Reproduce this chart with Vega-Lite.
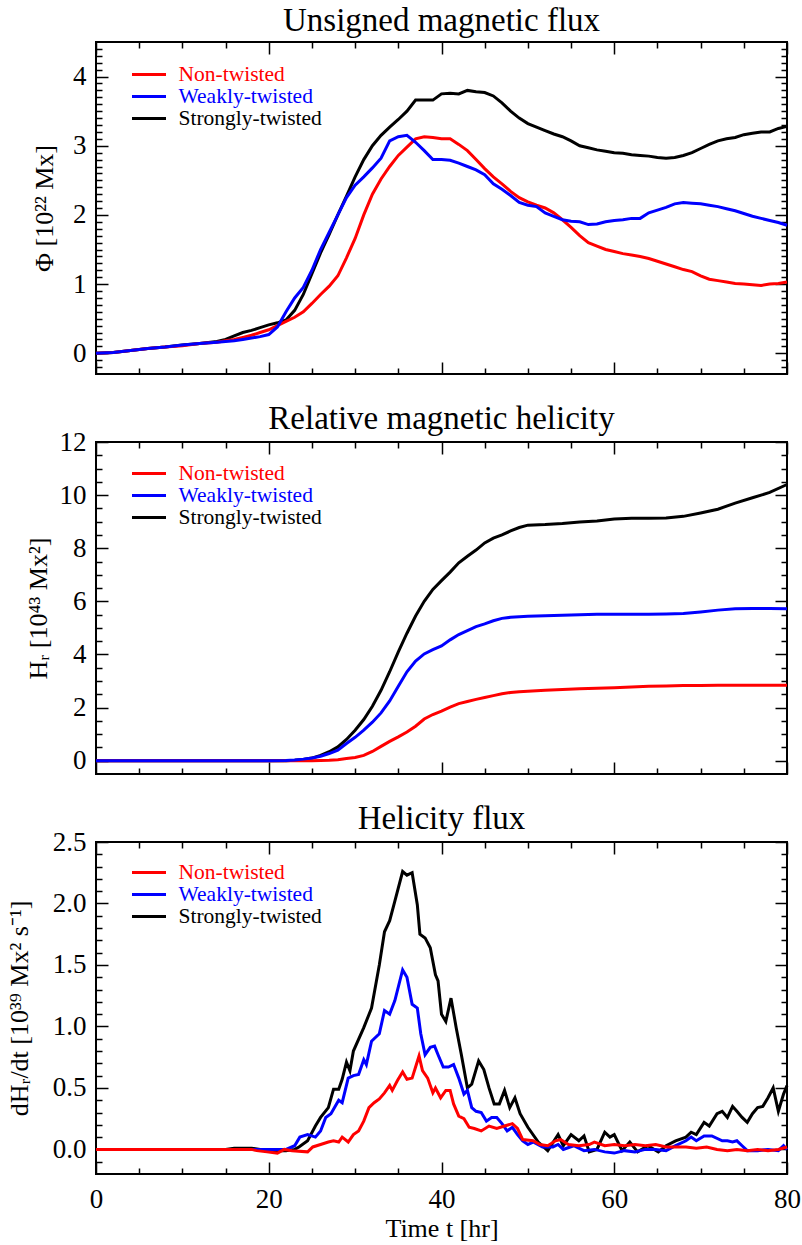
{
  "$schema": "https://vega.github.io/schema/vega-lite/v6.json",
  "background": "white",
  "padding": {"left": 5, "top": 4, "right": 5, "bottom": 2},
  "bounds": "flush",
  "spacing": 68,
  "config": {
    "view": {"stroke": "#000000", "strokeWidth": 2},
    "axis": {"domain": false, "grid": false, "tickColor": "#000000", "tickWidth": 1.5, "labelFont": "Liberation Serif", "labelFontSize": 27, "labelColor": "#000000", "titleFont": "Liberation Serif", "titleFontSize": 26, "titleFontWeight": "normal", "titleColor": "#000000", "labelFlush": false, "labelOverlap": false, "minExtent": 0},
    "title": {"font": "Liberation Serif", "fontSize": 33, "fontWeight": "normal", "color": "#000000", "anchor": "middle", "baseline": "alphabetic", "offset": 3},
    "line": {"strokeWidth": 3}
  },
  "datasets": {
    "flux": [
      {"t":0,"Non-twisted":0,"Weakly-twisted":0,"Strongly-twisted":0},
      {"t":2,"Non-twisted":0.01,"Weakly-twisted":0.01,"Strongly-twisted":0.01},
      {"t":4,"Non-twisted":0.04,"Weakly-twisted":0.04,"Strongly-twisted":0.04},
      {"t":6,"Non-twisted":0.07,"Weakly-twisted":0.07,"Strongly-twisted":0.07},
      {"t":8,"Non-twisted":0.09,"Weakly-twisted":0.09,"Strongly-twisted":0.09},
      {"t":10,"Non-twisted":0.11,"Weakly-twisted":0.12,"Strongly-twisted":0.12},
      {"t":12,"Non-twisted":0.14,"Weakly-twisted":0.14,"Strongly-twisted":0.14},
      {"t":14,"Non-twisted":0.16,"Weakly-twisted":0.16,"Strongly-twisted":0.17},
      {"t":15,"Non-twisted":0.18,"Weakly-twisted":0.17,"Strongly-twisted":0.2},
      {"t":16,"Non-twisted":0.2,"Weakly-twisted":0.18,"Strongly-twisted":0.25},
      {"t":17,"Non-twisted":0.23,"Weakly-twisted":0.2,"Strongly-twisted":0.3},
      {"t":18,"Non-twisted":0.26,"Weakly-twisted":0.22,"Strongly-twisted":0.33},
      {"t":19,"Non-twisted":0.3,"Weakly-twisted":0.24,"Strongly-twisted":0.37},
      {"t":20,"Non-twisted":0.34,"Weakly-twisted":0.27,"Strongly-twisted":0.41},
      {"t":21,"Non-twisted":0.4,"Weakly-twisted":0.38,"Strongly-twisted":0.44},
      {"t":22,"Non-twisted":0.46,"Weakly-twisted":0.6,"Strongly-twisted":0.48},
      {"t":23,"Non-twisted":0.52,"Weakly-twisted":0.8,"Strongly-twisted":0.62},
      {"t":24,"Non-twisted":0.6,"Weakly-twisted":0.95,"Strongly-twisted":0.85},
      {"t":25,"Non-twisted":0.72,"Weakly-twisted":1.2,"Strongly-twisted":1.15},
      {"t":26,"Non-twisted":0.85,"Weakly-twisted":1.5,"Strongly-twisted":1.45},
      {"t":27,"Non-twisted":0.97,"Weakly-twisted":1.75,"Strongly-twisted":1.72},
      {"t":28,"Non-twisted":1.12,"Weakly-twisted":2.0,"Strongly-twisted":2.0},
      {"t":29,"Non-twisted":1.38,"Weakly-twisted":2.25,"Strongly-twisted":2.27},
      {"t":30,"Non-twisted":1.66,"Weakly-twisted":2.43,"Strongly-twisted":2.55},
      {"t":31,"Non-twisted":2.0,"Weakly-twisted":2.55,"Strongly-twisted":2.8},
      {"t":32,"Non-twisted":2.3,"Weakly-twisted":2.68,"Strongly-twisted":3.0},
      {"t":33,"Non-twisted":2.52,"Weakly-twisted":2.82,"Strongly-twisted":3.15},
      {"t":34,"Non-twisted":2.7,"Weakly-twisted":3.07,"Strongly-twisted":3.27},
      {"t":35,"Non-twisted":2.86,"Weakly-twisted":3.13,"Strongly-twisted":3.38},
      {"t":36,"Non-twisted":2.98,"Weakly-twisted":3.15,"Strongly-twisted":3.5},
      {"t":37,"Non-twisted":3.1,"Weakly-twisted":3.05,"Strongly-twisted":3.66},
      {"t":38,"Non-twisted":3.13,"Weakly-twisted":2.93,"Strongly-twisted":3.66},
      {"t":39,"Non-twisted":3.12,"Weakly-twisted":2.8,"Strongly-twisted":3.66},
      {"t":40,"Non-twisted":3.1,"Weakly-twisted":2.8,"Strongly-twisted":3.75},
      {"t":41,"Non-twisted":3.1,"Weakly-twisted":2.79,"Strongly-twisted":3.76},
      {"t":42,"Non-twisted":3.02,"Weakly-twisted":2.75,"Strongly-twisted":3.75},
      {"t":43,"Non-twisted":2.93,"Weakly-twisted":2.7,"Strongly-twisted":3.8},
      {"t":44,"Non-twisted":2.8,"Weakly-twisted":2.65,"Strongly-twisted":3.78},
      {"t":45,"Non-twisted":2.67,"Weakly-twisted":2.58,"Strongly-twisted":3.77},
      {"t":46,"Non-twisted":2.55,"Weakly-twisted":2.45,"Strongly-twisted":3.72},
      {"t":47,"Non-twisted":2.45,"Weakly-twisted":2.37,"Strongly-twisted":3.62},
      {"t":48,"Non-twisted":2.34,"Weakly-twisted":2.28,"Strongly-twisted":3.5},
      {"t":49,"Non-twisted":2.25,"Weakly-twisted":2.18,"Strongly-twisted":3.4},
      {"t":50,"Non-twisted":2.19,"Weakly-twisted":2.14,"Strongly-twisted":3.32},
      {"t":51,"Non-twisted":2.14,"Weakly-twisted":2.12,"Strongly-twisted":3.27},
      {"t":52,"Non-twisted":2.1,"Weakly-twisted":2.03,"Strongly-twisted":3.22},
      {"t":53,"Non-twisted":2.03,"Weakly-twisted":1.98,"Strongly-twisted":3.17},
      {"t":54,"Non-twisted":1.93,"Weakly-twisted":1.93,"Strongly-twisted":3.13},
      {"t":55,"Non-twisted":1.82,"Weakly-twisted":1.91,"Strongly-twisted":3.07},
      {"t":56,"Non-twisted":1.7,"Weakly-twisted":1.9,"Strongly-twisted":3.0},
      {"t":57,"Non-twisted":1.6,"Weakly-twisted":1.86,"Strongly-twisted":2.97},
      {"t":58,"Non-twisted":1.55,"Weakly-twisted":1.87,"Strongly-twisted":2.94},
      {"t":59,"Non-twisted":1.5,"Weakly-twisted":1.9,"Strongly-twisted":2.92},
      {"t":60,"Non-twisted":1.47,"Weakly-twisted":1.92,"Strongly-twisted":2.9},
      {"t":61,"Non-twisted":1.44,"Weakly-twisted":1.93,"Strongly-twisted":2.89},
      {"t":62,"Non-twisted":1.42,"Weakly-twisted":1.95,"Strongly-twisted":2.87},
      {"t":63,"Non-twisted":1.4,"Weakly-twisted":1.95,"Strongly-twisted":2.86},
      {"t":64,"Non-twisted":1.37,"Weakly-twisted":2.03,"Strongly-twisted":2.85},
      {"t":65,"Non-twisted":1.33,"Weakly-twisted":2.07,"Strongly-twisted":2.83},
      {"t":66,"Non-twisted":1.29,"Weakly-twisted":2.11,"Strongly-twisted":2.82},
      {"t":67,"Non-twisted":1.25,"Weakly-twisted":2.16,"Strongly-twisted":2.83},
      {"t":68,"Non-twisted":1.21,"Weakly-twisted":2.18,"Strongly-twisted":2.86},
      {"t":69,"Non-twisted":1.18,"Weakly-twisted":2.17,"Strongly-twisted":2.9},
      {"t":70,"Non-twisted":1.12,"Weakly-twisted":2.16,"Strongly-twisted":2.96},
      {"t":71,"Non-twisted":1.07,"Weakly-twisted":2.14,"Strongly-twisted":3.02},
      {"t":72,"Non-twisted":1.05,"Weakly-twisted":2.12,"Strongly-twisted":3.07},
      {"t":73,"Non-twisted":1.03,"Weakly-twisted":2.09,"Strongly-twisted":3.1},
      {"t":74,"Non-twisted":1.01,"Weakly-twisted":2.06,"Strongly-twisted":3.12},
      {"t":75,"Non-twisted":1.0,"Weakly-twisted":2.02,"Strongly-twisted":3.16},
      {"t":76,"Non-twisted":0.99,"Weakly-twisted":1.98,"Strongly-twisted":3.18},
      {"t":77,"Non-twisted":0.98,"Weakly-twisted":1.95,"Strongly-twisted":3.2},
      {"t":78,"Non-twisted":1.0,"Weakly-twisted":1.92,"Strongly-twisted":3.2},
      {"t":79,"Non-twisted":1.01,"Weakly-twisted":1.89,"Strongly-twisted":3.25},
      {"t":80,"Non-twisted":1.03,"Weakly-twisted":1.85,"Strongly-twisted":3.28}
    ],
    "hel": [
      {"t":0,"Non-twisted":0,"Weakly-twisted":0,"Strongly-twisted":0},
      {"t":10,"Non-twisted":0,"Weakly-twisted":0,"Strongly-twisted":0},
      {"t":20,"Non-twisted":0,"Weakly-twisted":0,"Strongly-twisted":0},
      {"t":22,"Non-twisted":0,"Weakly-twisted":0.01,"Strongly-twisted":0},
      {"t":23,"Non-twisted":0,"Weakly-twisted":0.03,"Strongly-twisted":0.02},
      {"t":24,"Non-twisted":0,"Weakly-twisted":0.06,"Strongly-twisted":0.05},
      {"t":25,"Non-twisted":0,"Weakly-twisted":0.1,"Strongly-twisted":0.1},
      {"t":26,"Non-twisted":0.01,"Weakly-twisted":0.17,"Strongly-twisted":0.2},
      {"t":27,"Non-twisted":0.02,"Weakly-twisted":0.27,"Strongly-twisted":0.34},
      {"t":28,"Non-twisted":0.04,"Weakly-twisted":0.4,"Strongly-twisted":0.52},
      {"t":29,"Non-twisted":0.08,"Weakly-twisted":0.65,"Strongly-twisted":0.8},
      {"t":30,"Non-twisted":0.12,"Weakly-twisted":0.88,"Strongly-twisted":1.15},
      {"t":31,"Non-twisted":0.2,"Weakly-twisted":1.15,"Strongly-twisted":1.55},
      {"t":32,"Non-twisted":0.35,"Weakly-twisted":1.45,"Strongly-twisted":2.05},
      {"t":33,"Non-twisted":0.54,"Weakly-twisted":1.8,"Strongly-twisted":2.65},
      {"t":34,"Non-twisted":0.73,"Weakly-twisted":2.25,"Strongly-twisted":3.35},
      {"t":35,"Non-twisted":0.9,"Weakly-twisted":2.8,"Strongly-twisted":4.1},
      {"t":36,"Non-twisted":1.08,"Weakly-twisted":3.35,"Strongly-twisted":4.8},
      {"t":37,"Non-twisted":1.3,"Weakly-twisted":3.75,"Strongly-twisted":5.45},
      {"t":38,"Non-twisted":1.57,"Weakly-twisted":4.02,"Strongly-twisted":6.0},
      {"t":39,"Non-twisted":1.74,"Weakly-twisted":4.18,"Strongly-twisted":6.45},
      {"t":40,"Non-twisted":1.87,"Weakly-twisted":4.32,"Strongly-twisted":6.78},
      {"t":41,"Non-twisted":2.02,"Weakly-twisted":4.55,"Strongly-twisted":7.1},
      {"t":42,"Non-twisted":2.15,"Weakly-twisted":4.75,"Strongly-twisted":7.45},
      {"t":43,"Non-twisted":2.23,"Weakly-twisted":4.9,"Strongly-twisted":7.7},
      {"t":44,"Non-twisted":2.31,"Weakly-twisted":5.05,"Strongly-twisted":7.93},
      {"t":45,"Non-twisted":2.38,"Weakly-twisted":5.15,"Strongly-twisted":8.2},
      {"t":46,"Non-twisted":2.45,"Weakly-twisted":5.27,"Strongly-twisted":8.38},
      {"t":47,"Non-twisted":2.52,"Weakly-twisted":5.36,"Strongly-twisted":8.5},
      {"t":48,"Non-twisted":2.57,"Weakly-twisted":5.4,"Strongly-twisted":8.65},
      {"t":49,"Non-twisted":2.6,"Weakly-twisted":5.42,"Strongly-twisted":8.78},
      {"t":50,"Non-twisted":2.62,"Weakly-twisted":5.44,"Strongly-twisted":8.87},
      {"t":52,"Non-twisted":2.65,"Weakly-twisted":5.46,"Strongly-twisted":8.89},
      {"t":54,"Non-twisted":2.68,"Weakly-twisted":5.48,"Strongly-twisted":8.93},
      {"t":56,"Non-twisted":2.71,"Weakly-twisted":5.5,"Strongly-twisted":8.99},
      {"t":58,"Non-twisted":2.73,"Weakly-twisted":5.51,"Strongly-twisted":9.03},
      {"t":60,"Non-twisted":2.75,"Weakly-twisted":5.51,"Strongly-twisted":9.1},
      {"t":62,"Non-twisted":2.78,"Weakly-twisted":5.51,"Strongly-twisted":9.13},
      {"t":64,"Non-twisted":2.8,"Weakly-twisted":5.51,"Strongly-twisted":9.13},
      {"t":66,"Non-twisted":2.81,"Weakly-twisted":5.52,"Strongly-twisted":9.14},
      {"t":68,"Non-twisted":2.83,"Weakly-twisted":5.54,"Strongly-twisted":9.2},
      {"t":70,"Non-twisted":2.83,"Weakly-twisted":5.6,"Strongly-twisted":9.33},
      {"t":72,"Non-twisted":2.84,"Weakly-twisted":5.67,"Strongly-twisted":9.47},
      {"t":74,"Non-twisted":2.84,"Weakly-twisted":5.72,"Strongly-twisted":9.7},
      {"t":76,"Non-twisted":2.84,"Weakly-twisted":5.73,"Strongly-twisted":9.9},
      {"t":78,"Non-twisted":2.84,"Weakly-twisted":5.73,"Strongly-twisted":10.1},
      {"t":80,"Non-twisted":2.84,"Weakly-twisted":5.72,"Strongly-twisted":10.4}
    ],
    "hflux": [
      {"series":"Strongly-twisted","t":0,"v":0},{"series":"Strongly-twisted","t":10,"v":0},{"series":"Strongly-twisted","t":15,"v":0},{"series":"Strongly-twisted","t":16,"v":0.01},{"series":"Strongly-twisted","t":17,"v":0.01},{"series":"Strongly-twisted","t":18,"v":0.01},{"series":"Strongly-twisted","t":19,"v":0},{"series":"Strongly-twisted","t":20,"v":-0.01},{"series":"Strongly-twisted","t":21,"v":-0.01},{"series":"Strongly-twisted","t":22,"v":-0.01},{"series":"Strongly-twisted","t":23,"v":0},{"series":"Strongly-twisted","t":23.5,"v":0.02},{"series":"Strongly-twisted","t":24.5,"v":0.07},{"series":"Strongly-twisted","t":25.4,"v":0.19},{"series":"Strongly-twisted","t":26,"v":0.26},{"series":"Strongly-twisted","t":26.9,"v":0.34},{"series":"Strongly-twisted","t":27.5,"v":0.49},{"series":"Strongly-twisted","t":28.1,"v":0.49},{"series":"Strongly-twisted","t":28.5,"v":0.57},{"series":"Strongly-twisted","t":29,"v":0.71},{"series":"Strongly-twisted","t":29.4,"v":0.64},{"series":"Strongly-twisted","t":29.8,"v":0.8},{"series":"Strongly-twisted","t":31,"v":0.99},{"series":"Strongly-twisted","t":31.9,"v":1.15},{"series":"Strongly-twisted","t":32.8,"v":1.5},{"series":"Strongly-twisted","t":33.4,"v":1.77},{"series":"Strongly-twisted","t":34,"v":1.86},{"series":"Strongly-twisted","t":34.6,"v":2.02},{"series":"Strongly-twisted","t":35.5,"v":2.26},{"series":"Strongly-twisted","t":36,"v":2.23},{"series":"Strongly-twisted","t":36.6,"v":2.25},{"series":"Strongly-twisted","t":37.2,"v":1.99},{"series":"Strongly-twisted","t":37.5,"v":1.75},{"series":"Strongly-twisted","t":38.1,"v":1.72},{"series":"Strongly-twisted","t":38.7,"v":1.64},{"series":"Strongly-twisted","t":39.3,"v":1.42},{"series":"Strongly-twisted","t":39.6,"v":1.37},{"series":"Strongly-twisted","t":40,"v":1.1},{"series":"Strongly-twisted","t":40.5,"v":1.04},{"series":"Strongly-twisted","t":41.1,"v":1.23},{"series":"Strongly-twisted","t":41.7,"v":0.99},{"series":"Strongly-twisted","t":42.3,"v":0.77},{"series":"Strongly-twisted","t":43,"v":0.5},{"series":"Strongly-twisted","t":43.5,"v":0.53},{"series":"Strongly-twisted","t":44.3,"v":0.72},{"series":"Strongly-twisted","t":44.9,"v":0.65},{"series":"Strongly-twisted","t":45.5,"v":0.5},{"series":"Strongly-twisted","t":46.1,"v":0.37},{"series":"Strongly-twisted","t":46.7,"v":0.37},{"series":"Strongly-twisted","t":47.3,"v":0.48},{"series":"Strongly-twisted","t":47.9,"v":0.34},{"series":"Strongly-twisted","t":48.5,"v":0.42},{"series":"Strongly-twisted","t":49.1,"v":0.29},{"series":"Strongly-twisted","t":50,"v":0.18},{"series":"Strongly-twisted","t":51.2,"v":0.06},{"series":"Strongly-twisted","t":52.3,"v":-0.01},{"series":"Strongly-twisted","t":53.5,"v":0.12},{"series":"Strongly-twisted","t":54.1,"v":0.03},{"series":"Strongly-twisted","t":55,"v":0.12},{"series":"Strongly-twisted","t":55.9,"v":0.07},{"series":"Strongly-twisted","t":56.5,"v":0.11},{"series":"Strongly-twisted","t":57.1,"v":-0.02},{"series":"Strongly-twisted","t":58,"v":0},{"series":"Strongly-twisted","t":58.9,"v":0.14},{"series":"Strongly-twisted","t":59.5,"v":0.1},{"series":"Strongly-twisted","t":60,"v":0.12},{"series":"Strongly-twisted","t":60.9,"v":-0.01},{"series":"Strongly-twisted","t":61.8,"v":0.06},{"series":"Strongly-twisted","t":62.7,"v":-0.02},{"series":"Strongly-twisted","t":63.9,"v":0.03},{"series":"Strongly-twisted","t":65.1,"v":-0.02},{"series":"Strongly-twisted","t":66,"v":0.03},{"series":"Strongly-twisted","t":67.1,"v":0.07},{"series":"Strongly-twisted","t":68.3,"v":0.1},{"series":"Strongly-twisted","t":68.9,"v":0.14},{"series":"Strongly-twisted","t":69.5,"v":0.12},{"series":"Strongly-twisted","t":70.4,"v":0.22},{"series":"Strongly-twisted","t":71,"v":0.19},{"series":"Strongly-twisted","t":71.9,"v":0.29},{"series":"Strongly-twisted","t":72.5,"v":0.31},{"series":"Strongly-twisted","t":73.1,"v":0.26},{"series":"Strongly-twisted","t":73.7,"v":0.35},{"series":"Strongly-twisted","t":74.2,"v":0.31},{"series":"Strongly-twisted","t":74.8,"v":0.26},{"series":"Strongly-twisted","t":75.4,"v":0.22},{"series":"Strongly-twisted","t":76,"v":0.29},{"series":"Strongly-twisted","t":76.6,"v":0.34},{"series":"Strongly-twisted","t":77.2,"v":0.35},{"series":"Strongly-twisted","t":77.8,"v":0.42},{"series":"Strongly-twisted","t":78.4,"v":0.5},{"series":"Strongly-twisted","t":79,"v":0.31},{"series":"Strongly-twisted","t":79.6,"v":0.45},{"series":"Strongly-twisted","t":80,"v":0.52},
      {"series":"Weakly-twisted","t":0,"v":0},{"series":"Weakly-twisted","t":10,"v":0},{"series":"Weakly-twisted","t":20,"v":0},{"series":"Weakly-twisted","t":22,"v":0},{"series":"Weakly-twisted","t":23,"v":0.03},{"series":"Weakly-twisted","t":23.6,"v":0.1},{"series":"Weakly-twisted","t":24.5,"v":0.12},{"series":"Weakly-twisted","t":25.4,"v":0.1},{"series":"Weakly-twisted","t":26,"v":0.15},{"series":"Weakly-twisted","t":26.6,"v":0.26},{"series":"Weakly-twisted","t":27.2,"v":0.29},{"series":"Weakly-twisted","t":28.1,"v":0.4},{"series":"Weakly-twisted","t":28.5,"v":0.38},{"series":"Weakly-twisted","t":29.2,"v":0.58},{"series":"Weakly-twisted","t":29.8,"v":0.6},{"series":"Weakly-twisted","t":30.4,"v":0.61},{"series":"Weakly-twisted","t":31,"v":0.73},{"series":"Weakly-twisted","t":31.3,"v":0.69},{"series":"Weakly-twisted","t":31.9,"v":0.88},{"series":"Weakly-twisted","t":32.8,"v":0.94},{"series":"Weakly-twisted","t":33.4,"v":1.13},{"series":"Weakly-twisted","t":34,"v":1.1},{"series":"Weakly-twisted","t":34.6,"v":1.21},{"series":"Weakly-twisted","t":35.5,"v":1.46},{"series":"Weakly-twisted","t":36,"v":1.4},{"series":"Weakly-twisted","t":36.6,"v":1.18},{"series":"Weakly-twisted","t":37.2,"v":1.15},{"series":"Weakly-twisted","t":37.6,"v":0.94},{"series":"Weakly-twisted","t":38.1,"v":0.77},{"series":"Weakly-twisted","t":38.7,"v":0.83},{"series":"Weakly-twisted","t":39.2,"v":0.84},{"series":"Weakly-twisted","t":39.6,"v":0.77},{"series":"Weakly-twisted","t":40.2,"v":0.67},{"series":"Weakly-twisted","t":40.8,"v":0.67},{"series":"Weakly-twisted","t":41.4,"v":0.69},{"series":"Weakly-twisted","t":42,"v":0.58},{"series":"Weakly-twisted","t":42.6,"v":0.45},{"series":"Weakly-twisted","t":43,"v":0.48},{"series":"Weakly-twisted","t":43.5,"v":0.34},{"series":"Weakly-twisted","t":44,"v":0.31},{"series":"Weakly-twisted","t":44.6,"v":0.3},{"series":"Weakly-twisted","t":45.2,"v":0.23},{"series":"Weakly-twisted","t":45.8,"v":0.26},{"series":"Weakly-twisted","t":46.4,"v":0.26},{"series":"Weakly-twisted","t":47,"v":0.21},{"series":"Weakly-twisted","t":47.6,"v":0.15},{"series":"Weakly-twisted","t":48.2,"v":0.18},{"series":"Weakly-twisted","t":48.8,"v":0.12},{"series":"Weakly-twisted","t":49.4,"v":0.07},{"series":"Weakly-twisted","t":50,"v":0.04},{"series":"Weakly-twisted","t":50.6,"v":0.06},{"series":"Weakly-twisted","t":51.7,"v":0.02},{"series":"Weakly-twisted","t":52.9,"v":0.02},{"series":"Weakly-twisted","t":53.5,"v":0.04},{"series":"Weakly-twisted","t":54.1,"v":0},{"series":"Weakly-twisted","t":55.3,"v":0.03},{"series":"Weakly-twisted","t":56.5,"v":-0.01},{"series":"Weakly-twisted","t":57.7,"v":0},{"series":"Weakly-twisted","t":58.9,"v":-0.02},{"series":"Weakly-twisted","t":60,"v":-0.03},{"series":"Weakly-twisted","t":61.2,"v":-0.01},{"series":"Weakly-twisted","t":62.4,"v":-0.02},{"series":"Weakly-twisted","t":63.6,"v":0},{"series":"Weakly-twisted","t":64.8,"v":0},{"series":"Weakly-twisted","t":66,"v":-0.01},{"series":"Weakly-twisted","t":67.1,"v":0.03},{"series":"Weakly-twisted","t":68.3,"v":0.07},{"series":"Weakly-twisted","t":68.9,"v":0.1},{"series":"Weakly-twisted","t":69.5,"v":0.07},{"series":"Weakly-twisted","t":70.4,"v":0.11},{"series":"Weakly-twisted","t":71.3,"v":0.11},{"series":"Weakly-twisted","t":72.5,"v":0.07},{"series":"Weakly-twisted","t":73.1,"v":0.07},{"series":"Weakly-twisted","t":73.7,"v":0.06},{"series":"Weakly-twisted","t":74.2,"v":0.07},{"series":"Weakly-twisted","t":74.8,"v":0.03},{"series":"Weakly-twisted","t":75.4,"v":-0.01},{"series":"Weakly-twisted","t":76.6,"v":-0.01},{"series":"Weakly-twisted","t":77.8,"v":0},{"series":"Weakly-twisted","t":79,"v":-0.01},{"series":"Weakly-twisted","t":79.6,"v":0.03},{"series":"Weakly-twisted","t":80,"v":0},
      {"series":"Non-twisted","t":0,"v":0},{"series":"Non-twisted","t":10,"v":0},{"series":"Non-twisted","t":18,"v":0},{"series":"Non-twisted","t":18.6,"v":-0.01},{"series":"Non-twisted","t":19.8,"v":-0.02},{"series":"Non-twisted","t":21,"v":-0.03},{"series":"Non-twisted","t":21.8,"v":0},{"series":"Non-twisted","t":22.7,"v":-0.01},{"series":"Non-twisted","t":24.5,"v":-0.02},{"series":"Non-twisted","t":25.1,"v":0.02},{"series":"Non-twisted","t":26,"v":0.04},{"series":"Non-twisted","t":26.9,"v":0.06},{"series":"Non-twisted","t":27.5,"v":0.07},{"series":"Non-twisted","t":28.1,"v":0.06},{"series":"Non-twisted","t":28.5,"v":0.1},{"series":"Non-twisted","t":29.2,"v":0.06},{"series":"Non-twisted","t":29.8,"v":0.12},{"series":"Non-twisted","t":30.4,"v":0.15},{"series":"Non-twisted","t":31,"v":0.23},{"series":"Non-twisted","t":31.6,"v":0.34},{"series":"Non-twisted","t":32.2,"v":0.38},{"series":"Non-twisted","t":32.8,"v":0.41},{"series":"Non-twisted","t":33.4,"v":0.46},{"series":"Non-twisted","t":34,"v":0.52},{"series":"Non-twisted","t":34.3,"v":0.48},{"series":"Non-twisted","t":34.9,"v":0.56},{"series":"Non-twisted","t":35.5,"v":0.63},{"series":"Non-twisted","t":36,"v":0.57},{"series":"Non-twisted","t":36.6,"v":0.58},{"series":"Non-twisted","t":37,"v":0.67},{"series":"Non-twisted","t":37.4,"v":0.76},{"series":"Non-twisted","t":37.8,"v":0.64},{"series":"Non-twisted","t":38.4,"v":0.58},{"series":"Non-twisted","t":39,"v":0.46},{"series":"Non-twisted","t":39.3,"v":0.5},{"series":"Non-twisted","t":39.9,"v":0.42},{"series":"Non-twisted","t":40.5,"v":0.48},{"series":"Non-twisted","t":41,"v":0.48},{"series":"Non-twisted","t":41.4,"v":0.37},{"series":"Non-twisted","t":42,"v":0.27},{"series":"Non-twisted","t":42.6,"v":0.25},{"series":"Non-twisted","t":43.2,"v":0.18},{"series":"Non-twisted","t":43.8,"v":0.17},{"series":"Non-twisted","t":44.6,"v":0.15},{"series":"Non-twisted","t":45.5,"v":0.19},{"series":"Non-twisted","t":46.4,"v":0.17},{"series":"Non-twisted","t":47.3,"v":0.19},{"series":"Non-twisted","t":48.2,"v":0.21},{"series":"Non-twisted","t":48.8,"v":0.17},{"series":"Non-twisted","t":49.4,"v":0.08},{"series":"Non-twisted","t":50.6,"v":0.07},{"series":"Non-twisted","t":51.4,"v":0.04},{"series":"Non-twisted","t":52.3,"v":0.03},{"series":"Non-twisted","t":53.2,"v":0.07},{"series":"Non-twisted","t":53.8,"v":0.08},{"series":"Non-twisted","t":54.7,"v":0.04},{"series":"Non-twisted","t":55.9,"v":0.03},{"series":"Non-twisted","t":57.1,"v":0.04},{"series":"Non-twisted","t":57.7,"v":0.06},{"series":"Non-twisted","t":58.9,"v":0.03},{"series":"Non-twisted","t":60,"v":0.04},{"series":"Non-twisted","t":61.2,"v":0.03},{"series":"Non-twisted","t":62.4,"v":0.04},{"series":"Non-twisted","t":63.6,"v":0.03},{"series":"Non-twisted","t":64.8,"v":0.04},{"series":"Non-twisted","t":66,"v":0.02},{"series":"Non-twisted","t":67.1,"v":0.02},{"series":"Non-twisted","t":68.3,"v":0.02},{"series":"Non-twisted","t":69.5,"v":0.01},{"series":"Non-twisted","t":70.7,"v":0.02},{"series":"Non-twisted","t":71.9,"v":0},{"series":"Non-twisted","t":73.1,"v":-0.01},{"series":"Non-twisted","t":74.2,"v":0},{"series":"Non-twisted","t":75.4,"v":-0.01},{"series":"Non-twisted","t":76.6,"v":0},{"series":"Non-twisted","t":77.8,"v":-0.01},{"series":"Non-twisted","t":79,"v":0},{"series":"Non-twisted","t":80,"v":0.02}
    ]
  },
  "resolve": {"scale": {"x": "independent", "y": "independent", "color": "independent"}, "legend": {"color": "independent"}},
  "vconcat": [
    {
      "width": 691, "height": 332,
      "title": {"text": "Unsigned magnetic flux", "offset": 3},
      "data": {"name": "flux"},
      "transform": [{"fold": ["Strongly-twisted", "Non-twisted", "Weakly-twisted"], "as": ["series", "v"]}],
      "layer": [
        {
          "mark": {"type": "line", "strokeWidth": 3},
          "encoding": {
            "x": {"field": "t", "type": "quantitative", "scale": {"domain": [0, 80], "nice": false, "zero": false},
                  "axis": {"orient": "bottom", "values": [0, 20, 40, 60, 80], "tickSize": 12, "offset": -12, "labels": false, "title": null}},
            "y": {"field": "v", "type": "quantitative", "scale": {"domain": [-0.3, 4.5], "nice": false, "zero": false},
                  "axis": {"orient": "left", "values": [0, 1, 2, 3, 4], "format": "d", "tickSize": 12, "offset": -12, "labelPadding": 10, "title": "Φ [10²² Mx]", "titlePadding": 15}},
            "color": {"field": "series", "type": "nominal",
                      "scale": {"domain": ["Non-twisted", "Weakly-twisted", "Strongly-twisted"], "range": ["#ff0000", "#0000ff", "#000000"]},
                      "legend": {"orient": "none", "legendX": 41.5, "legendY": 21, "title": null, "symbolType": "M-1.7,0H1.7", "symbolSize": 400, "symbolStrokeWidth": 3, "labelFont": "Liberation Serif", "labelFontSize": 21.5, "labelOffset": 18, "rowPadding": -5, "padding": 0, "labelLimit": 400,
                                 "labelColor": {"expr": "datum.value === 'Non-twisted' ? '#ff0000' : datum.value === 'Weakly-twisted' ? '#0000ff' : '#000000'"}}}
          }
        },
        {
          "mark": {"type": "line", "opacity": 0},
          "encoding": {
            "x": {"field": "t", "type": "quantitative", "axis": {"orient": "bottom", "values": [5, 10, 15, 25, 30, 35, 45, 50, 55, 65, 70, 75], "tickSize": 6, "offset": -6, "labels": false, "title": null}},
            "y": {"field": "v", "type": "quantitative", "axis": {"orient": "left", "values": [-0.2, -0.1, 0.1, 0.2, 0.3, 0.4, 0.5, 0.6, 0.7, 0.8, 0.9, 1.1, 1.2, 1.3, 1.4, 1.5, 1.6, 1.7, 1.8, 1.9, 2.1, 2.2, 2.3, 2.4, 2.5, 2.6, 2.7, 2.8, 2.9, 3.1, 3.2, 3.3, 3.4, 3.5, 3.6, 3.7, 3.8, 3.9, 4.1, 4.2, 4.3, 4.4], "tickSize": 6, "offset": -6, "labels": false, "title": null}},
            "detail": {"field": "series"}
          }
        },
        {
          "mark": {"type": "line", "opacity": 0},
          "encoding": {
            "x": {"field": "t", "type": "quantitative", "axis": {"orient": "top", "values": [0, 20, 40, 60, 80], "tickSize": 12, "offset": -12, "labels": false, "title": null}},
            "y": {"field": "v", "type": "quantitative", "axis": {"orient": "right", "values": [0, 1, 2, 3, 4], "tickSize": 12, "offset": -12, "labels": false, "title": null}},
            "detail": {"field": "series"}
          }
        },
        {
          "mark": {"type": "line", "opacity": 0},
          "encoding": {
            "x": {"field": "t", "type": "quantitative", "axis": {"orient": "top", "values": [5, 10, 15, 25, 30, 35, 45, 50, 55, 65, 70, 75], "tickSize": 6, "offset": -6, "labels": false, "title": null}},
            "y": {"field": "v", "type": "quantitative", "axis": {"orient": "right", "values": [-0.2, -0.1, 0.1, 0.2, 0.3, 0.4, 0.5, 0.6, 0.7, 0.8, 0.9, 1.1, 1.2, 1.3, 1.4, 1.5, 1.6, 1.7, 1.8, 1.9, 2.1, 2.2, 2.3, 2.4, 2.5, 2.6, 2.7, 2.8, 2.9, 3.1, 3.2, 3.3, 3.4, 3.5, 3.6, 3.7, 3.8, 3.9, 4.1, 4.2, 4.3, 4.4], "tickSize": 6, "offset": -6, "labels": false, "title": null}},
            "detail": {"field": "series"}
          }
        }
      ],
      "resolve": {"axis": {"x": "independent", "y": "independent"}}
    },
    {
      "width": 691, "height": 332,
      "title": {"text": "Relative magnetic helicity", "offset": -8},
      "data": {"name": "hel"},
      "transform": [{"fold": ["Strongly-twisted", "Non-twisted", "Weakly-twisted"], "as": ["series", "v"]}],
      "layer": [
        {
          "mark": {"type": "line", "strokeWidth": 3},
          "encoding": {
            "x": {"field": "t", "type": "quantitative", "scale": {"domain": [0, 80], "nice": false, "zero": false},
                  "axis": {"orient": "bottom", "values": [0, 20, 40, 60, 80], "tickSize": 12, "offset": -12, "labels": false, "title": null}},
            "y": {"field": "v", "type": "quantitative", "scale": {"domain": [-0.5, 12], "nice": false, "zero": false},
                  "axis": {"orient": "left", "values": [0, 2, 4, 6, 8, 10, 12], "format": "d", "tickSize": 12, "offset": -12, "labelPadding": 10, "title": "Hᵣ [10⁴³ Mx²]", "titlePadding": 8}},
            "color": {"field": "series", "type": "nominal",
                      "scale": {"domain": ["Non-twisted", "Weakly-twisted", "Strongly-twisted"], "range": ["#ff0000", "#0000ff", "#000000"]},
                      "legend": {"orient": "none", "legendX": 41.5, "legendY": 20, "title": null, "symbolType": "M-1.7,0H1.7", "symbolSize": 400, "symbolStrokeWidth": 3, "labelFont": "Liberation Serif", "labelFontSize": 21.5, "labelOffset": 18, "rowPadding": -5, "padding": 0, "labelLimit": 400,
                                 "labelColor": {"expr": "datum.value === 'Non-twisted' ? '#ff0000' : datum.value === 'Weakly-twisted' ? '#0000ff' : '#000000'"}}}
          }
        },
        {
          "mark": {"type": "line", "opacity": 0},
          "encoding": {
            "x": {"field": "t", "type": "quantitative", "axis": {"orient": "bottom", "values": [5, 10, 15, 25, 30, 35, 45, 50, 55, 65, 70, 75], "tickSize": 6, "offset": -6, "labels": false, "title": null}},
            "y": {"field": "v", "type": "quantitative", "axis": {"orient": "left", "values": [0.5, 1, 1.5, 2.5, 3, 3.5, 4.5, 5, 5.5, 6.5, 7, 7.5, 8.5, 9, 9.5, 10.5, 11, 11.5], "tickSize": 6, "offset": -6, "labels": false, "title": null}},
            "detail": {"field": "series"}
          }
        },
        {
          "mark": {"type": "line", "opacity": 0},
          "encoding": {
            "x": {"field": "t", "type": "quantitative", "axis": {"orient": "top", "values": [0, 20, 40, 60, 80], "tickSize": 12, "offset": -12, "labels": false, "title": null}},
            "y": {"field": "v", "type": "quantitative", "axis": {"orient": "right", "values": [0, 2, 4, 6, 8, 10, 12], "tickSize": 12, "offset": -12, "labels": false, "title": null}},
            "detail": {"field": "series"}
          }
        },
        {
          "mark": {"type": "line", "opacity": 0},
          "encoding": {
            "x": {"field": "t", "type": "quantitative", "axis": {"orient": "top", "values": [5, 10, 15, 25, 30, 35, 45, 50, 55, 65, 70, 75], "tickSize": 6, "offset": -6, "labels": false, "title": null}},
            "y": {"field": "v", "type": "quantitative", "axis": {"orient": "right", "values": [0.5, 1, 1.5, 2.5, 3, 3.5, 4.5, 5, 5.5, 6.5, 7, 7.5, 8.5, 9, 9.5, 10.5, 11, 11.5], "tickSize": 6, "offset": -6, "labels": false, "title": null}},
            "detail": {"field": "series"}
          }
        }
      ],
      "resolve": {"axis": {"x": "independent", "y": "independent"}}
    },
    {
      "width": 691, "height": 332,
      "title": {"text": "Helicity flux", "offset": -8},
      "data": {"name": "hflux"},
      "layer": [
        {
          "mark": {"type": "line", "strokeWidth": 3},
          "encoding": {
            "x": {"field": "t", "type": "quantitative", "scale": {"domain": [0, 80], "nice": false, "zero": false},
                  "axis": {"orient": "bottom", "values": [0, 20, 40, 60, 80], "format": "d", "tickSize": 12, "offset": -12, "labelPadding": 12, "title": "Time t [hr]", "titlePadding": 3}},
            "y": {"field": "v", "type": "quantitative", "scale": {"domain": [-0.2, 2.5], "nice": false, "zero": false},
                  "axis": {"orient": "left", "values": [0, 0.5, 1, 1.5, 2, 2.5], "format": ".1f", "tickSize": 12, "offset": -12, "labelPadding": 10, "title": "dHᵣ/dt [10³⁹ Mx² s⁻¹]", "titlePadding": 20}},
            "color": {"field": "series", "type": "nominal",
                      "scale": {"domain": ["Non-twisted", "Weakly-twisted", "Strongly-twisted"], "range": ["#ff0000", "#0000ff", "#000000"]},
                      "legend": {"orient": "none", "legendX": 41.5, "legendY": 19, "title": null, "symbolType": "M-1.7,0H1.7", "symbolSize": 400, "symbolStrokeWidth": 3, "labelFont": "Liberation Serif", "labelFontSize": 21.5, "labelOffset": 18, "rowPadding": -5, "padding": 0, "labelLimit": 400,
                                 "labelColor": {"expr": "datum.value === 'Non-twisted' ? '#ff0000' : datum.value === 'Weakly-twisted' ? '#0000ff' : '#000000'"}}}
          }
        },
        {
          "mark": {"type": "line", "opacity": 0},
          "encoding": {
            "x": {"field": "t", "type": "quantitative", "axis": {"orient": "bottom", "values": [5, 10, 15, 25, 30, 35, 45, 50, 55, 65, 70, 75], "tickSize": 6, "offset": -6, "labels": false, "title": null}},
            "y": {"field": "v", "type": "quantitative", "axis": {"orient": "left", "values": [-0.1, 0.1, 0.2, 0.3, 0.4, 0.6, 0.7, 0.8, 0.9, 1.1, 1.2, 1.3, 1.4, 1.6, 1.7, 1.8, 1.9, 2.1, 2.2, 2.3, 2.4], "tickSize": 6, "offset": -6, "labels": false, "title": null}},
            "detail": {"field": "series"}
          }
        },
        {
          "mark": {"type": "line", "opacity": 0},
          "encoding": {
            "x": {"field": "t", "type": "quantitative", "axis": {"orient": "top", "values": [0, 20, 40, 60, 80], "tickSize": 12, "offset": -12, "labels": false, "title": null}},
            "y": {"field": "v", "type": "quantitative", "axis": {"orient": "right", "values": [0, 0.5, 1, 1.5, 2, 2.5], "tickSize": 12, "offset": -12, "labels": false, "title": null}},
            "detail": {"field": "series"}
          }
        },
        {
          "mark": {"type": "line", "opacity": 0},
          "encoding": {
            "x": {"field": "t", "type": "quantitative", "axis": {"orient": "top", "values": [5, 10, 15, 25, 30, 35, 45, 50, 55, 65, 70, 75], "tickSize": 6, "offset": -6, "labels": false, "title": null}},
            "y": {"field": "v", "type": "quantitative", "axis": {"orient": "right", "values": [-0.1, 0.1, 0.2, 0.3, 0.4, 0.6, 0.7, 0.8, 0.9, 1.1, 1.2, 1.3, 1.4, 1.6, 1.7, 1.8, 1.9, 2.1, 2.2, 2.3, 2.4], "tickSize": 6, "offset": -6, "labels": false, "title": null}},
            "detail": {"field": "series"}
          }
        }
      ],
      "resolve": {"axis": {"x": "independent", "y": "independent"}}
    }
  ]
}
